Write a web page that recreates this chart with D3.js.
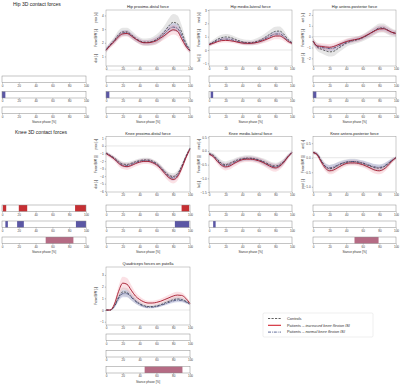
<!DOCTYPE html>
<html>
<head>
<meta charset="utf-8">
<script src="https://cdn.jsdelivr.net/npm/d3@7"></script>
<style>
  body { margin: 0; background: #fff; }
  svg { display: block; font-family: "Liberation Sans", Arial, sans-serif; }
  .tick text { fill: #444; }
</style>
</head>
<body>
<div id="fig"></div>
<script>
// stance phase sample points [%]
var phase = [0,5,10,15,20,25,30,35,40,45,50,55,60,65,70,75,80,85,90,95,100];
var barTicks = [0,20,40,60,80,100];

// Hip proximo-distal
var hipPdCtrl = [1.45,1.85,2.2,2.6,2.8,2.8,2.6,2.35,2.15,2.05,2.05,2.1,2.25,2.5,2.85,3.25,3.5,3.4,2.8,2.0,1.45];
var hipPdInc  = [1.45,1.8,2.1,2.45,2.65,2.68,2.5,2.28,2.1,2.0,2.0,2.05,2.15,2.35,2.55,2.8,2.95,2.85,2.3,1.75,1.4];
var hipPdNorm = [1.5,1.85,2.15,2.5,2.72,2.74,2.55,2.3,2.12,2.02,2.02,2.08,2.2,2.42,2.7,3.0,3.15,3.05,2.55,1.85,1.45];
var hipPdCtrlSd = [0.2,0.2,0.25,0.3,0.3,0.3,0.3,0.28,0.26,0.26,0.28,0.3,0.35,0.4,0.45,0.55,0.6,0.6,0.5,0.3,0.2];
var hipPdIncSd  = [0.15,0.18,0.2,0.22,0.22,0.22,0.2,0.2,0.2,0.2,0.2,0.22,0.25,0.28,0.3,0.33,0.35,0.35,0.3,0.22,0.15];
var hipPdNormSd = [0.15,0.15,0.18,0.2,0.2,0.2,0.18,0.18,0.18,0.18,0.18,0.2,0.22,0.24,0.26,0.28,0.3,0.3,0.26,0.2,0.15];

// Hip medio-lateral
var hipMlCtrl = [0.4,0.6,0.8,0.92,0.98,0.95,0.85,0.72,0.62,0.56,0.55,0.6,0.7,0.85,1.05,1.25,1.4,1.42,1.2,0.8,0.55];
var hipMlInc  = [0.4,0.5,0.62,0.7,0.72,0.7,0.65,0.58,0.52,0.5,0.5,0.53,0.6,0.7,0.82,0.95,1.05,1.05,0.9,0.65,0.5];
var hipMlNorm = [0.42,0.55,0.7,0.8,0.82,0.8,0.72,0.63,0.56,0.52,0.52,0.56,0.64,0.76,0.92,1.08,1.2,1.2,1.02,0.72,0.52];
var hipMlCtrlSd = [0.15,0.18,0.2,0.22,0.22,0.22,0.2,0.2,0.2,0.2,0.2,0.22,0.25,0.28,0.3,0.33,0.35,0.35,0.3,0.22,0.15];
var hipMlIncSd  = [0.12,0.13,0.15,0.16,0.16,0.16,0.15,0.15,0.15,0.15,0.15,0.16,0.18,0.2,0.22,0.24,0.25,0.25,0.22,0.16,0.12];
var hipMlNormSd = [0.1,0.12,0.12,0.13,0.13,0.13,0.12,0.12,0.12,0.12,0.12,0.13,0.14,0.16,0.18,0.2,0.2,0.2,0.18,0.14,0.1];

// Hip antero-posterior
var hipApCtrl = [-0.4,-0.95,-1.15,-1.3,-1.4,-1.35,-1.1,-0.85,-0.6,-0.45,-0.35,-0.25,-0.1,0.1,0.35,0.6,0.8,0.8,0.6,0.4,0.3];
var hipApInc  = [-0.4,-0.85,-0.9,-0.95,-0.98,-0.9,-0.75,-0.6,-0.45,-0.35,-0.28,-0.2,-0.05,0.15,0.35,0.55,0.7,0.72,0.58,0.4,0.3];
var hipApNorm = [-0.4,-0.9,-1.0,-1.05,-1.1,-1.05,-0.88,-0.7,-0.52,-0.4,-0.3,-0.22,-0.08,0.12,0.35,0.58,0.75,0.76,0.6,0.4,0.3];
var hipApCtrlSd = [0.3,0.35,0.38,0.4,0.42,0.42,0.4,0.38,0.35,0.33,0.32,0.32,0.33,0.35,0.38,0.4,0.42,0.42,0.4,0.35,0.3];
var hipApIncSd  = [0.25,0.28,0.3,0.3,0.3,0.3,0.28,0.26,0.25,0.24,0.24,0.24,0.25,0.26,0.28,0.3,0.3,0.3,0.28,0.26,0.25];
var hipApNormSd = [0.2,0.22,0.24,0.25,0.25,0.25,0.24,0.22,0.2,0.2,0.2,0.2,0.2,0.22,0.24,0.25,0.25,0.25,0.24,0.22,0.2];

// Knee proximo-distal
var kneePdCtrl = [-0.95,-1.25,-1.6,-2.05,-2.4,-2.45,-2.3,-2.1,-1.95,-1.85,-1.85,-2.0,-2.3,-2.8,-3.4,-3.9,-4.05,-3.7,-2.7,-1.4,-0.3];
var kneePdInc  = [-1.0,-1.35,-1.75,-2.3,-2.65,-2.75,-2.6,-2.35,-2.15,-2.05,-2.05,-2.2,-2.5,-3.0,-3.65,-4.2,-4.45,-4.1,-3.0,-1.6,-0.4];
var kneePdNorm = [-0.95,-1.3,-1.7,-2.2,-2.55,-2.62,-2.45,-2.22,-2.05,-1.95,-1.95,-2.1,-2.4,-2.9,-3.5,-4.05,-4.25,-3.9,-2.85,-1.5,-0.35];
var kneePdCtrlSd = [0.2,0.22,0.25,0.3,0.32,0.32,0.3,0.28,0.27,0.27,0.27,0.28,0.3,0.33,0.36,0.4,0.42,0.4,0.35,0.28,0.2];
var kneePdIncSd  = [0.25,0.28,0.32,0.38,0.42,0.42,0.4,0.38,0.36,0.35,0.35,0.36,0.38,0.42,0.46,0.5,0.52,0.5,0.42,0.32,0.25];
var kneePdNormSd = [0.18,0.2,0.22,0.26,0.28,0.28,0.26,0.25,0.24,0.24,0.24,0.25,0.27,0.3,0.32,0.35,0.36,0.34,0.3,0.24,0.18];

// Knee medio-lateral
var kneeMlCtrl = [-0.1,-0.15,-0.3,-0.45,-0.5,-0.45,-0.38,-0.32,-0.28,-0.26,-0.26,-0.28,-0.32,-0.38,-0.45,-0.52,-0.55,-0.5,-0.38,-0.2,-0.05];
var kneeMlInc  = [-0.12,-0.2,-0.38,-0.52,-0.58,-0.55,-0.46,-0.38,-0.32,-0.3,-0.3,-0.32,-0.36,-0.42,-0.5,-0.58,-0.62,-0.56,-0.42,-0.22,-0.06];
var kneeMlNorm = [-0.1,-0.18,-0.34,-0.48,-0.54,-0.5,-0.42,-0.35,-0.3,-0.28,-0.28,-0.3,-0.34,-0.4,-0.48,-0.55,-0.58,-0.53,-0.4,-0.21,-0.05];
var kneeMlCtrlSd = [0.06,0.08,0.1,0.12,0.12,0.12,0.1,0.1,0.1,0.1,0.1,0.1,0.1,0.11,0.12,0.12,0.12,0.12,0.1,0.08,0.06];
var kneeMlIncSd  = [0.06,0.08,0.1,0.12,0.13,0.13,0.12,0.11,0.1,0.1,0.1,0.1,0.11,0.12,0.13,0.14,0.14,0.13,0.11,0.08,0.06];
var kneeMlNormSd = [0.05,0.06,0.08,0.09,0.1,0.1,0.09,0.08,0.08,0.08,0.08,0.08,0.08,0.09,0.1,0.1,0.1,0.1,0.09,0.07,0.05];

// Knee antero-posterior
var kneeApCtrl = [0.18,0.12,-0.1,-0.3,-0.38,-0.35,-0.27,-0.2,-0.16,-0.14,-0.14,-0.16,-0.2,-0.25,-0.3,-0.35,-0.36,-0.32,-0.22,-0.1,0.0];
var kneeApInc  = [0.18,0.1,-0.15,-0.36,-0.45,-0.42,-0.34,-0.26,-0.2,-0.18,-0.18,-0.2,-0.24,-0.3,-0.37,-0.43,-0.45,-0.4,-0.28,-0.12,0.0];
var kneeApNorm = [0.18,0.12,-0.12,-0.3,-0.35,-0.32,-0.25,-0.19,-0.15,-0.13,-0.13,-0.15,-0.18,-0.23,-0.28,-0.32,-0.33,-0.3,-0.2,-0.09,0.0];
var kneeApCtrlSd = [0.05,0.07,0.1,0.12,0.13,0.13,0.12,0.11,0.1,0.1,0.1,0.1,0.1,0.1,0.11,0.12,0.12,0.12,0.1,0.08,0.05];
var kneeApIncSd  = [0.05,0.07,0.1,0.11,0.12,0.12,0.11,0.1,0.09,0.09,0.09,0.09,0.1,0.1,0.11,0.12,0.12,0.11,0.1,0.07,0.05];
var kneeApNormSd = [0.04,0.06,0.08,0.09,0.1,0.1,0.09,0.08,0.08,0.08,0.08,0.08,0.08,0.09,0.1,0.1,0.1,0.1,0.09,0.06,0.04];

// Quadriceps forces on patella
var quadCtrl = [0,0,0.35,1.1,1.55,1.5,1.15,0.8,0.55,0.38,0.3,0.3,0.35,0.45,0.6,0.75,0.88,0.95,0.9,0.75,0.5];
var quadInc  = [0,0,0.5,1.6,2.3,2.2,1.7,1.2,0.9,0.7,0.6,0.6,0.65,0.75,0.9,1.05,1.2,1.28,1.25,1.0,0.55];
var quadNorm = [0,0,0.3,1.0,1.4,1.4,1.1,0.75,0.5,0.32,0.25,0.25,0.3,0.4,0.52,0.66,0.78,0.85,0.82,0.7,0.5];
var quadCtrlSd = [0,0.02,0.15,0.3,0.38,0.38,0.32,0.26,0.2,0.16,0.14,0.14,0.15,0.16,0.18,0.2,0.22,0.22,0.2,0.16,0.1];
var quadIncSd  = [0,0.02,0.2,0.45,0.55,0.55,0.45,0.35,0.28,0.22,0.2,0.2,0.2,0.22,0.24,0.26,0.28,0.28,0.26,0.2,0.12];
var quadNormSd = [0,0.02,0.12,0.25,0.3,0.3,0.26,0.2,0.16,0.12,0.1,0.1,0.1,0.12,0.14,0.16,0.18,0.18,0.16,0.14,0.1];

// significant phases [start, end] in %: rows = increased vs ctrl, normal vs ctrl, increased vs normal
var hip3dSig  = [[], [[0,4]], []];
var hipPdSig  = [[], [[0,4]], []];
var hipMlSig  = [[], [[2,5]], []];
var hipApSig  = [[], [[0,4]], []];
var knee3dSig = [[[1,5],[20,30],[87,100]], [[4,7],[18,26],[88,100]], [[52,85]]];
var kneePdSig = [[[90,99]], [[82,99]], []];
var kneeMlSig = [[], [[5,8]], []];
var kneeApSig = [[], [], [[50,79]]];
var quadSig   = [[], [], [[46,91]]];

var W = 400, H = 384;
var sigColors = ["#c62f33", "#5b57a5", "#b56b84"];

var svg = d3.select("#fig").append("svg")
	.attr("width", W)
	.attr("height", H);

svg.append("rect").attr("width", W).attr("height", H).attr("fill", "#fff");

function panel(x0, x1, y0, y1, opts) {
	var x = d3.scaleLinear().domain([0, 100]).range([x0, x1]);
	var y = d3.scaleLinear().domain(opts.domain).range([y1, y0]);
	var g = svg.append("g");

	// zero line
	g.append("line")
	.attr("x1", x0).attr("x2", x1)
	.attr("y1", y(0)).attr("y2", y(0))
	.attr("stroke", "#cfcfcf")
	.attr("stroke-width", 0.5);

	var series = [
		{ m: opts.ctrl, sd: opts.ctrlSd, band: "#b8b8b8", bandOp: 0.35, line: "#3a3a3a", dash: "2.2,1.3", w: 0.75 },
		{ m: opts.norm, sd: opts.normSd, band: "#8f95cf", bandOp: 0.3, line: "#34396b", dash: "3,1,0.8,1", w: 0.75 },
		{ m: opts.inc, sd: opts.incSd, band: "#f29aa8", bandOp: 0.3, line: "#a3162a", dash: null, w: 0.9 }
	];

	var area = d3.area()
	.x(function(d, i) { return x(phase[i]); })
	.y0(function(d) { return y(d[0] - d[1]); })
	.y1(function(d) { return y(d[0] + d[1]); })
	.curve(d3.curveMonotoneX);

	var line = d3.line()
	.x(function(d, i) { return x(phase[i]); })
	.y(function(d) { return y(d); })
	.curve(d3.curveMonotoneX);

	series.forEach(function(s) {
		g.append("path")
		.datum(d3.zip(s.m, s.sd))
		.attr("d", area)
		.attr("fill", s.band)
		.attr("opacity", s.bandOp);
	});

	series.forEach(function(s) {
		g.append("path")
		.datum(s.m)
		.attr("d", line)
		.attr("fill", "none")
		.attr("stroke", s.line)
		.attr("stroke-width", s.w)
		.attr("stroke-dasharray", s.dash);
	});

	// frame
	g.append("rect")
	.attr("x", x0).attr("y", y0)
	.attr("width", x1 - x0).attr("height", y1 - y0)
	.attr("fill", "none")
	.attr("stroke", "#9a9a9a")
	.attr("stroke-width", 0.5);

	var yAxis = d3.axisLeft(y)
	.tickValues(opts.ticks)
	.tickFormat(opts.fmt || d3.format("d"))
	.tickSize(1.2)
	.tickPadding(1.2);

	g.append("g")
	.attr("transform", `translate(${x0},0)`)
	.call(yAxis)
	.call(function(a) { a.select(".domain").remove(); })
	.call(styleAxis);

	g.append("g")
	.attr("transform", `translate(0,${y1})`)
	.call(d3.axisBottom(x).tickValues(barTicks).tickSize(1.2).tickPadding(1))
	.call(function(a) { a.select(".domain").remove(); })
	.call(styleAxis);

	// titles
	g.append("text")
	.attr("x", (x0 + x1) / 2)
	.attr("y", y0 - 1.8)
	.attr("text-anchor", "middle")
	.attr("font-size", 4)
	.attr("fill", "#222")
	.text(opts.title);

	var lx = x0 - 9.5;
	var labels = [
		{ t: opts.top, yy: y0 + (y1 - y0) * 0.14 },
		{ t: "Force/BW [-]", yy: (y0 + y1) / 2 },
		{ t: opts.bottom, yy: y1 - (y1 - y0) * 0.14 }
	];
	labels.forEach(function(l) {
		if (!l.t) return;
		g.append("text")
		.attr("transform", `translate(${lx},${l.yy}) rotate(-90)`)
		.attr("text-anchor", "middle")
		.attr("font-size", 3.1)
		.attr("fill", "#333")
		.text(l.t);
	});
}

function styleAxis(a) {
	a.selectAll("line").attr("stroke", "#666").attr("stroke-width", 0.4);
	a.selectAll("text").attr("font-size", 3.1).attr("font-family", null);
}

function sigBars(x0, x1, ys, sig) {
	var x = d3.scaleLinear().domain([0, 100]).range([x0, x1]);
	var h = 6.5;
	ys.forEach(function(yy, r) {
		var g = svg.append("g");
		g.selectAll("rect.sig")
		.data(sig[r])
		.enter()
		.append("rect")
		.attr("class", "sig")
		.attr("x", function(d) { return x(d[0]); })
		.attr("y", yy)
		.attr("width", function(d) { return x(d[1]) - x(d[0]); })
		.attr("height", h)
		.attr("fill", sigColors[r]);

		g.append("rect")
		.attr("x", x0).attr("y", yy)
		.attr("width", x1 - x0).attr("height", h)
		.attr("fill", "none")
		.attr("stroke", "#8a8a8a")
		.attr("stroke-width", 0.5);

		g.append("g")
		.attr("transform", `translate(0,${yy + h})`)
		.call(d3.axisBottom(x).tickValues(barTicks).tickSize(1.2).tickPadding(1))
		.call(function(a) { a.select(".domain").remove(); })
		.call(styleAxis);
	});
	svg.append("text")
	.attr("x", (x0 + x1) / 2)
	.attr("y", ys[2] + h + 9.5)
	.attr("text-anchor", "middle")
	.attr("font-size", 3.1)
	.attr("fill", "#333")
	.text("Stance phase [%]");
}

var cols = [[2, 86], [106, 190], [209, 292], [313, 396]];
var hipRow = [10, 66], kneeRow = [136.5, 192], quadRow = [267, 325];
var hipBars = [76, 91.5, 107], kneeBars = [205, 221, 237], quadBars = [334, 350.5, 366.5];
var f1 = d3.format(".1f");

// section titles
svg.append("text").attr("x", 13).attr("y", 5.5).attr("font-size", 5).attr("fill", "#222").text("Hip 3D contact forces");
svg.append("text").attr("x", 15).attr("y", 134).attr("font-size", 5).attr("fill", "#222").text("Knee 3D contact forces");

panel(cols[1][0], cols[1][1], hipRow[0], hipRow[1], {
	title: "Hip proximo-distal force", top: "prox [+]", bottom: "dist [-]",
	domain: [0.3, 4.4], ticks: [1, 2, 3, 4],
	ctrl: hipPdCtrl, inc: hipPdInc, norm: hipPdNorm, ctrlSd: hipPdCtrlSd, incSd: hipPdIncSd, normSd: hipPdNormSd
});
panel(cols[2][0], cols[2][1], hipRow[0], hipRow[1], {
	title: "Hip medio-lateral force", top: "med [+]", bottom: "lat [-]",
	domain: [-1.2, 3.0], ticks: [-1, 0, 1, 2, 3],
	ctrl: hipMlCtrl, inc: hipMlInc, norm: hipMlNorm, ctrlSd: hipMlCtrlSd, incSd: hipMlIncSd, normSd: hipMlNormSd
});
panel(cols[3][0], cols[3][1], hipRow[0], hipRow[1], {
	title: "Hip antero-posterior force", top: "ant [+]", bottom: "post [-]",
	domain: [-2.7, 2.45], ticks: [-2, -1, 0, 1, 2],
	ctrl: hipApCtrl, inc: hipApInc, norm: hipApNorm, ctrlSd: hipApCtrlSd, incSd: hipApIncSd, normSd: hipApNormSd
});

panel(cols[1][0], cols[1][1], kneeRow[0], kneeRow[1], {
	title: "Knee proximo-distal force", top: "prox [+]", bottom: "dist [-]",
	domain: [-6.1, 1.25], ticks: [-6, -5, -4, -3, -2, -1, 0, 1],
	ctrl: kneePdCtrl, inc: kneePdInc, norm: kneePdNorm, ctrlSd: kneePdCtrlSd, incSd: kneePdIncSd, normSd: kneePdNormSd
});
panel(cols[2][0], cols[2][1], kneeRow[0], kneeRow[1], {
	title: "Knee medio-lateral force", top: "med [+]", bottom: "lat [-]",
	domain: [-1.5, 0.53], ticks: [-1.5, -1.0, -0.5, 0.0, 0.5], fmt: f1,
	ctrl: kneeMlCtrl, inc: kneeMlInc, norm: kneeMlNorm, ctrlSd: kneeMlCtrlSd, incSd: kneeMlIncSd, normSd: kneeMlNormSd
});
panel(cols[3][0], cols[3][1], kneeRow[0], kneeRow[1], {
	title: "Knee antero-posterior force", top: "ant [+]", bottom: "post [-]",
	domain: [-1.18, 0.73], ticks: [-1.0, -0.5, 0.0, 0.5], fmt: f1,
	ctrl: kneeApCtrl, inc: kneeApInc, norm: kneeApNorm, ctrlSd: kneeApCtrlSd, incSd: kneeApIncSd, normSd: kneeApNormSd
});

panel(cols[1][0], cols[1][1], quadRow[0], quadRow[1], {
	title: "Quadriceps forces on patella", top: null, bottom: null,
	domain: [-1.28, 3.68], ticks: [-1, 0, 1, 2, 3],
	ctrl: quadCtrl, inc: quadInc, norm: quadNorm, ctrlSd: quadCtrlSd, incSd: quadIncSd, normSd: quadNormSd
});

sigBars(cols[0][0], cols[0][1], hipBars, hip3dSig);
sigBars(cols[1][0], cols[1][1], hipBars, hipPdSig);
sigBars(cols[2][0], cols[2][1], hipBars, hipMlSig);
sigBars(cols[3][0], cols[3][1], hipBars, hipApSig);
sigBars(cols[0][0], cols[0][1], kneeBars, knee3dSig);
sigBars(cols[1][0], cols[1][1], kneeBars, kneePdSig);
sigBars(cols[2][0], cols[2][1], kneeBars, kneeMlSig);
sigBars(cols[3][0], cols[3][1], kneeBars, kneeApSig);
sigBars(cols[1][0], cols[1][1], quadBars, quadSig);

// legend
var legend = svg.append("g").attr("transform", "translate(263,313)");
legend.append("rect")
.attr("width", 110).attr("height", 24).attr("rx", 1.2)
.attr("fill", "#fff").attr("stroke", "#dcdcdc").attr("stroke-width", 0.5);

var legendItems = [
	{ pre: "Controls", it: "", stroke: "#3a3a3a", dash: "2.2,1.3", w: 0.8 },
	{ pre: "Patients \u2013 ", it: "increased knee flexion ISI", stroke: "#d0202e", dash: null, w: 1.1 },
	{ pre: "Patients \u2013 ", it: "normal knee flexion ISI", stroke: "#4d5a8c", dash: "3,1,0.8,1", w: 0.9 }
];
legendItems.forEach(function(d, i) {
	var yy = 5.5 + i * 6.8;
	legend.append("line")
	.attr("x1", 5).attr("x2", 18).attr("y1", yy).attr("y2", yy)
	.attr("stroke", d.stroke).attr("stroke-width", d.w).attr("stroke-dasharray", d.dash);
	var t = legend.append("text")
	.attr("x", 24).attr("y", yy + 1.3)
	.attr("font-size", 3.9).attr("fill", "#333");
	t.append("tspan").text(d.pre);
	if (d.it) t.append("tspan").attr("font-style", "italic").text(d.it);
});
</script>
</body>
</html>
